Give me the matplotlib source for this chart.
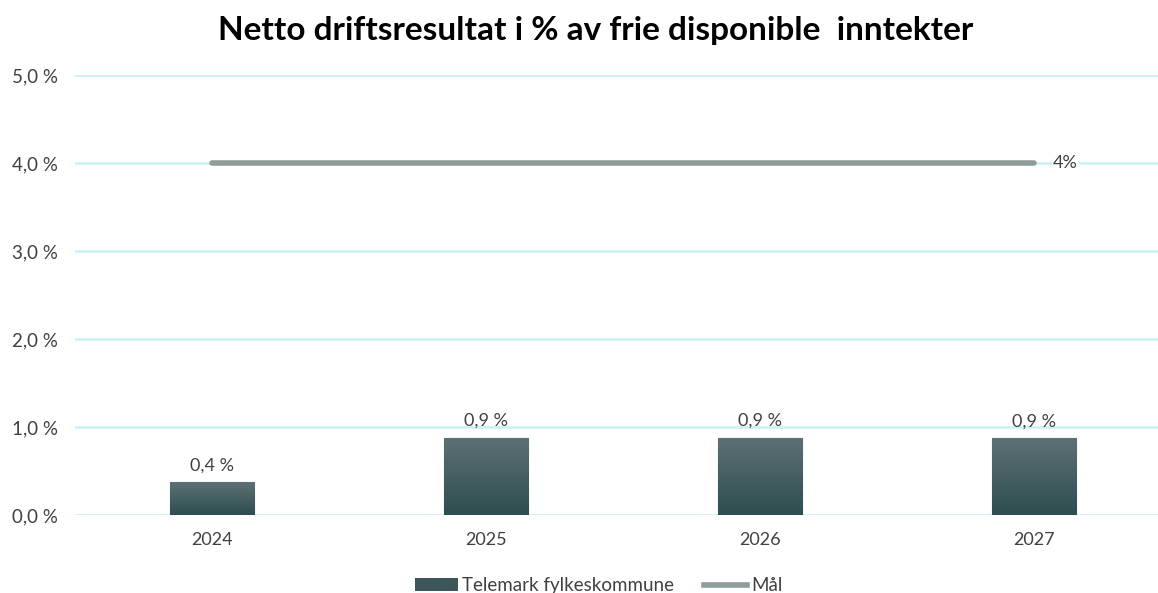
import numpy as np
import matplotlib.pyplot as plt
from matplotlib.colors import LinearSegmentedColormap
from matplotlib.lines import Line2D
from matplotlib.patches import Patch

years = ['2024', '2025', '2026', '2027']
resultat = [0.37, 0.88, 0.88, 0.87]
labels = ['0,4 %', '0,9 %', '0,9 %', '0,9 %']
maal = [4.0, 4.0, 4.0, 4.0]
yticks = [0, 1, 2, 3, 4, 5]

plt.rcParams['font.family'] = ['Lato', 'DejaVu Sans']

fig = plt.figure(figsize=(11.58, 5.93), dpi=100)
ax = fig.add_axes([75 / 1158, 78 / 593, 1096 / 1158, 440 / 593])

x = np.arange(len(years))
bars = ax.bar(x, resultat, width=0.31, color='#3d5659', edgecolor='#5f7476', linewidth=0.8, zorder=3)

# gradient fill inside bars
cmap = LinearSegmentedColormap.from_list('g', ['#2e4d50', '#5d7173'])
grad = np.linspace(0, 1, 256).reshape(-1, 1)
for b in bars:
    im = ax.imshow(grad, cmap=cmap, aspect='auto', origin='lower',
                   extent=[b.get_x(), b.get_x() + b.get_width(), 0, b.get_height()],
                   zorder=3.5)
    im.set_clip_path(b)

for xi, v, t in zip(x, resultat, labels):
    ax.text(xi, v + 0.1, t, ha='center', va='bottom', fontsize=13, color='#404040')

ax.plot(x, maal, color='#8f9c9c', linewidth=4, solid_capstyle='round', zorder=4)
ax.text(x[-1] + 0.07, maal[-1], '4%', ha='left', va='center', fontsize=13, color='#404040',
        bbox=dict(facecolor='white', edgecolor='none', pad=1), zorder=5)

ax.set_xlim(-0.5, 3.5)
ax.set_ylim(0, 5)
ax.set_xticks(x)
ax.set_xticklabels(years, fontsize=13, color='#404040')
ax.set_yticks(yticks)
ax.set_yticklabels([f'{v},0 %' for v in yticks], fontsize=13.5, color='#404040')
ax.tick_params(axis='both', length=0, pad=12)
ax.yaxis.grid(True, color='#c8f0f8', linewidth=1.8, zorder=0)
ax.set_axisbelow(True)
for s in ax.spines.values():
    s.set_visible(False)

fig.text(0.514, 0.948, 'Netto driftsresultat i % av frie disponible  inntekter',
         ha='center', va='center', fontsize=24, fontweight='bold', color='black')

handles = [Patch(facecolor='#3d5659', edgecolor='none'),
           Line2D([0], [0], color='#8f9c9c', linewidth=4)]
fig.legend(handles, ['Telemark fylkeskommune', 'Mål'], loc='center', bbox_to_anchor=(0.517, 0.012),
           ncol=2, frameon=False, fontsize=13.5, handlelength=2.3, columnspacing=1.6, handletextpad=0.2,
           labelcolor='#404040')

fig.savefig('out.png', dpi=100)
